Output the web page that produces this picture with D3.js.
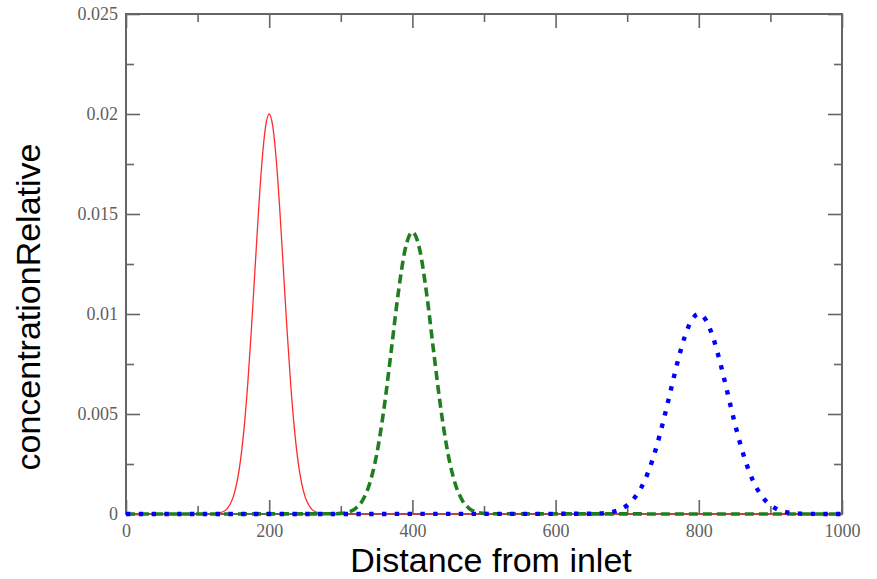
<!DOCTYPE html>
<html>
<head>
<meta charset="utf-8">
<script src="https://cdn.jsdelivr.net/npm/d3@7"></script>
<style>
  html, body { margin: 0; padding: 0; background: #fff; }
  svg { display: block; }
  .tick text { font-family: "Liberation Serif", "DejaVu Serif", serif; font-size: 18px; fill: #5f5f5f; }
  .axis-title { font-family: "Liberation Sans", Arial, sans-serif; font-size: 34px; fill: #000; }
</style>
</head>
<body>
<svg id="chart" width="877" height="579"></svg>
<script>
// Concentration profiles of a pulse travelling down a channel
const redX = [0, 120, 130, 140, 145, 150, 155, 160, 165, 170, 175, 180, 185, 190, 195, 200,
              205, 210, 215, 220, 225, 230, 235, 240, 245, 250, 255, 260, 270, 280, 1000];
const redY = [0, 0.00001, 0.00004, 0.00022, 0.00046, 0.00088, 0.00159, 0.00271, 0.00433, 0.00649,
              0.00916, 0.01213, 0.01510, 0.01765, 0.01938, 0.02000,
              0.01938, 0.01765, 0.01510, 0.01213, 0.00916, 0.00649, 0.00433, 0.00271, 0.00159,
              0.00088, 0.00046, 0.00022, 0.00004, 0.00001, 0];

const greenX = [0, 290, 300, 310, 320, 330, 340, 350, 360, 370, 380, 390, 400,
                410, 420, 430, 440, 450, 460, 470, 480, 490, 500, 510, 1000];
const greenY = [0, 0.00001, 0.00003, 0.00009, 0.00026, 0.00066, 0.00149, 0.00296, 0.00519, 0.00803,
                0.01098, 0.01325, 0.01410,
                0.01325, 0.01098, 0.00803, 0.00519, 0.00296, 0.00149, 0.00066, 0.00026, 0.00009,
                0.00003, 0.00001, 0];

const blueX = [0, 650, 660, 670, 680, 690, 700, 710, 720, 730, 740, 750, 760, 770, 780, 790, 800,
               810, 820, 830, 840, 850, 860, 870, 880, 890, 900, 910, 920, 930, 940, 950, 1000];
const blueY = [0, 0.00001, 0.00002, 0.00005, 0.00011, 0.00023, 0.00044, 0.00080, 0.00135, 0.00216,
               0.00325, 0.00458, 0.00607, 0.00755, 0.00882, 0.00969, 0.01000,
               0.00969, 0.00882, 0.00755, 0.00607, 0.00458, 0.00325, 0.00216, 0.00135, 0.00080,
               0.00044, 0.00023, 0.00011, 0.00005, 0.00002, 0.00001, 0];

const xMajorTicks = [0, 200, 400, 600, 800, 1000];
const xMinorTicks = [100, 300, 500, 700, 900];
const yMajorTicks = [0, 0.005, 0.01, 0.015, 0.02, 0.025];
const yMinorTicks = [0.0025, 0.0075, 0.0125, 0.0175, 0.0225];
const yTickLabels = ["0", "0.005", "0.01", "0.015", "0.02", "0.025"];

const xTitle = "Distance from inlet";
const yTitle = "concentrationRelative";

const margin = { left: 126, right: 35, top: 14, bottom: 65 };
const W = 877, H = 579;
const innerW = W - margin.left - margin.right;
const innerH = H - margin.top - margin.bottom;

const svg = d3.select("#chart");
const g = svg.append("g").attr("transform", `translate(${margin.left},${margin.top})`);

const x = d3.scaleLinear().domain([0, 1000]).range([0, innerW]);
const y = d3.scaleLinear().domain([0, 0.025]).range([innerH, 0]);

const frameColor = "#666666";
const majorLen = 14, minorLen = 8;

function styleAxis(sel) {
  sel.select(".domain").remove();
  sel.selectAll(".tick line").attr("stroke", frameColor).attr("stroke-width", 1.6);
}

// bottom axis with labels
g.append("g").attr("transform", `translate(0,${innerH})`)
  .call(d3.axisBottom(x).tickValues(xMajorTicks).tickSize(-majorLen).tickPadding(9)
        .tickFormat(d3.format("d")))
  .call(styleAxis)
  .call(s => s.selectAll(".tick text").attr("dy", "0.75em"));
g.append("g").attr("transform", `translate(0,${innerH})`)
  .call(d3.axisBottom(x).tickValues(xMinorTicks).tickSize(-minorLen).tickFormat(""))
  .call(styleAxis);
// top axis (ticks only)
g.append("g")
  .call(d3.axisTop(x).tickValues(xMajorTicks).tickSize(-majorLen).tickFormat(""))
  .call(styleAxis);
g.append("g")
  .call(d3.axisTop(x).tickValues(xMinorTicks).tickSize(-minorLen).tickFormat(""))
  .call(styleAxis);
// left axis with labels
g.append("g")
  .call(d3.axisLeft(y).tickValues(yMajorTicks).tickSize(-majorLen).tickPadding(8)
        .tickFormat((d, i) => yTickLabels[i]))
  .call(styleAxis);
g.append("g")
  .call(d3.axisLeft(y).tickValues(yMinorTicks).tickSize(-minorLen).tickFormat(""))
  .call(styleAxis);
// right axis (ticks only)
g.append("g").attr("transform", `translate(${innerW},0)`)
  .call(d3.axisRight(y).tickValues(yMajorTicks).tickSize(-majorLen).tickFormat(""))
  .call(styleAxis);
g.append("g").attr("transform", `translate(${innerW},0)`)
  .call(d3.axisRight(y).tickValues(yMinorTicks).tickSize(-minorLen).tickFormat(""))
  .call(styleAxis);

// plot frame
g.append("rect")
  .attr("x", 0).attr("y", 0).attr("width", innerW).attr("height", innerH)
  .attr("fill", "none").attr("stroke", frameColor).attr("stroke-width", 2);

const line = d3.line()
  .x(d => x(d[0]))
  .y(d => y(d[1]))
  .curve(d3.curveMonotoneX);

const series = [
  { xs: redX, ys: redY, color: "#ff2a2a", width: 1.3, dash: null },
  { xs: greenX, ys: greenY, color: "#1f7f1f", width: 3.6, dash: "9,5" },
  { xs: blueX, ys: blueY, color: "#0000ff", width: 4.4, dash: "4.4,8.4" }
];

series.forEach(s => {
  g.append("path")
    .datum(d3.zip(s.xs, s.ys))
    .attr("d", line)
    .attr("fill", "none")
    .attr("stroke", s.color)
    .attr("stroke-width", s.width)
    .attr("stroke-dasharray", s.dash)
    .attr("stroke-linejoin", "round");
});

// axis titles
svg.append("text")
  .attr("class", "axis-title")
  .attr("x", 491).attr("y", 572)
  .attr("text-anchor", "middle")
  .text(xTitle);

svg.append("text")
  .attr("class", "axis-title")
  .attr("transform", "translate(40,307) rotate(-90)")
  .attr("text-anchor", "middle")
  .text(yTitle);
</script>
</body>
</html>
